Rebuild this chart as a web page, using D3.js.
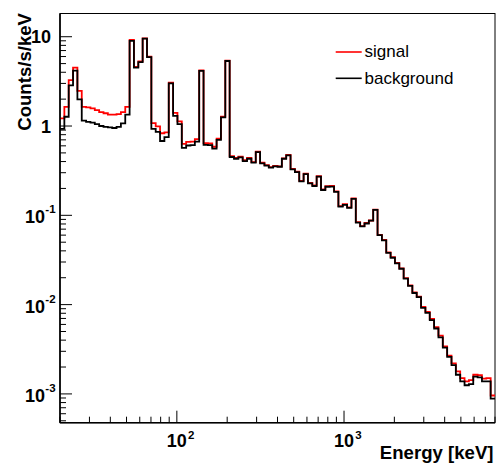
<!DOCTYPE html>
<html>
<head>
<meta charset="utf-8">
<script src="https://cdn.jsdelivr.net/npm/d3@7/dist/d3.min.js"></script>
<style>
  html, body { margin: 0; padding: 0; background: #fff; }
  svg { display: block; font-family: "Liberation Sans", Arial, Helvetica, sans-serif; }
</style>
</head>
<body>
<svg id="chart" width="496" height="464"></svg>
<script>
// ---- data ----
const energyMin = 20;      // keV, lower edge of first bin
const energyMax = 8000;    // keV, upper edge of last bin
const nBins = 100;         // log-spaced bins

const seriesNames = ["signal", "background"];
const seriesColors = ["#ff0000", "#000000"];

const signal = [
  1.22, 1.64, 3.27, 4.5, 2.48, 1.64, 1.62, 1.58, 1.51, 1.43,
  1.39, 1.34, 1.34, 1.36, 1.43, 1.64, 9.2, 4.6, 5.3, 9.6,
  6.0, 1.08, 0.99, 0.83, 0.85, 3.05, 1.40, 1.13, 0.63, 0.665,
  0.67, 0.715, 4.2, 0.645, 0.64, 0.586, 0.72, 1.27, 5.4, 0.46,
  0.44, 0.455, 0.415, 0.44, 0.395, 0.515, 0.388, 0.365, 0.347, 0.358,
  0.353, 0.435, 0.475, 0.33, 0.308, 0.243, 0.293, 0.231, 0.216, 0.274,
  0.195, 0.212, 0.213, 0.185, 0.127, 0.133, 0.123, 0.155, 0.084, 0.0755,
  0.082, 0.0875, 0.116, 0.0605, 0.053, 0.0385, 0.034, 0.0293, 0.0255, 0.0198,
  0.0164, 0.0137, 0.0123, 0.0094, 0.0083, 0.0069, 0.0056, 0.0045, 0.0034, 0.00268,
  0.0022, 0.00179, 0.0015, 0.00138, 0.00143, 0.00164, 0.00162, 0.00148, 0.0015, 0.00096
];

const background = [
  0.93, 1.27, 2.85, 4.17, 1.99, 1.15, 1.11, 1.09, 1.05, 1.0,
  0.98, 0.966, 0.95, 0.98, 1.07, 1.34, 9.0, 4.5, 5.2, 9.5,
  5.9, 0.93, 0.86, 0.68, 0.75, 3.0, 1.30, 1.05, 0.57, 0.605,
  0.61, 0.67, 4.15, 0.615, 0.61, 0.557, 0.70, 1.25, 5.35, 0.45,
  0.43, 0.445, 0.405, 0.43, 0.39, 0.51, 0.382, 0.36, 0.342, 0.354,
  0.35, 0.43, 0.47, 0.327, 0.305, 0.24, 0.29, 0.228, 0.213, 0.271,
  0.192, 0.209, 0.21, 0.183, 0.125, 0.131, 0.121, 0.153, 0.083, 0.075,
  0.081, 0.087, 0.115, 0.06, 0.0525, 0.038, 0.0335, 0.029, 0.0252, 0.0195,
  0.0162, 0.0135, 0.0121, 0.0092, 0.0081, 0.0067, 0.0054, 0.0043, 0.0033, 0.0026,
  0.0021, 0.00164, 0.00138, 0.00125, 0.00129, 0.00156, 0.00153, 0.00138, 0.00138, 0.000885
];

const xMajorTicks = [100, 1000];
const xMajorLabels = [["10", "2"], ["10", "3"]];
const yMajorTicks = [10, 1, 0.1, 0.01, 0.001];
const yMajorLabels = [["10", ""], ["1", ""], ["10", "-1"], ["10", "-2"], ["10", "-3"]];

const xTitle = "Energy [keV]";
const yTitle = "Counts/s/keV";

// ---- layout ----
const frame = { left: 60, right: 495, top: 13.5, bottom: 422.7 };
const yDomain = [4.76e-4, 18.2];

const svg = d3.select("#chart");

const x = d3.scaleLog().domain([energyMin, energyMax]).range([frame.left, frame.right]);
const y = d3.scaleLog().domain(yDomain).range([frame.bottom, frame.top]);

// bin edges
const lmin = Math.log10(energyMin), lmax = Math.log10(energyMax);
const edges = d3.range(nBins + 1).map(i => Math.pow(10, lmin + (lmax - lmin) * i / nBins));

// frame
svg.append("rect")
  .attr("x", frame.left).attr("y", frame.top)
  .attr("width", frame.right - frame.left).attr("height", frame.bottom - frame.top)
  .attr("fill", "none").attr("stroke", "#000").attr("stroke-width", 1);

// histograms
function stepPoints(vals) {
  const pts = [];
  vals.forEach((v, i) => { pts.push([edges[i], v]); pts.push([edges[i + 1], v]); });
  return pts;
}
const line = d3.line().x(d => x(d[0])).y(d => y(d[1]));
const clip = svg.append("clipPath").attr("id", "clip").append("rect")
  .attr("x", frame.left).attr("y", frame.top)
  .attr("width", frame.right - frame.left).attr("height", frame.bottom - frame.top);
const gPlot = svg.append("g").attr("clip-path", "url(#clip)");
[signal, background].forEach((vals, k) => {
  gPlot.append("path")
    .attr("d", line(stepPoints(vals)))
    .attr("fill", "none")
    .attr("stroke", seriesColors[k])
    .attr("stroke-width", 1.8)
    .attr("stroke-linejoin", "miter");
});

// axes lines
svg.append("line").attr("x1", frame.left).attr("x2", frame.right)
  .attr("y1", frame.bottom).attr("y2", frame.bottom)
  .attr("stroke", "#000").attr("stroke-width", 1.6);
svg.append("line").attr("x1", frame.left).attr("x2", frame.left)
  .attr("y1", frame.top).attr("y2", frame.bottom)
  .attr("stroke", "#000").attr("stroke-width", 1.6);

// ticks
function logTicks(lo, hi) {
  const out = [];
  for (let e = Math.floor(Math.log10(lo)) - 1; e <= Math.ceil(Math.log10(hi)); e++) {
    for (let m = 1; m <= 9; m++) {
      const v = m * Math.pow(10, e);
      if (v >= lo * 0.9999 && v <= hi * 1.0001) out.push({ v, major: m === 1 });
    }
  }
  return out;
}
const tickG = svg.append("g").attr("stroke", "#000").attr("stroke-width", 1);
logTicks(energyMin, energyMax).forEach(t => {
  const xx = x(t.v);
  tickG.append("line").attr("x1", xx).attr("x2", xx)
    .attr("y1", frame.bottom).attr("y2", frame.bottom - (t.major ? 12 : 6));
});
logTicks(yDomain[0], yDomain[1]).forEach(t => {
  const yy = y(t.v);
  tickG.append("line").attr("x1", frame.left).attr("x2", frame.left + (t.major ? 12 : 6))
    .attr("y1", yy).attr("y2", yy);
});

// tick labels
const labelSize = 18, supSize = 11.5;
xMajorTicks.forEach((v, i) => {
  const xx = x(v);
  svg.append("text").attr("x", xx).attr("y", 447.3)
    .attr("text-anchor", "middle").attr("font-weight", "bold").attr("font-size", labelSize)
    .text(xMajorLabels[i][0]);
  svg.append("text").attr("x", xx + 11.2).attr("y", 438.8)
    .attr("text-anchor", "start").attr("font-weight", "bold").attr("font-size", supSize)
    .text(xMajorLabels[i][1]);
});
yMajorTicks.forEach((v, i) => {
  const yy = y(v);
  const [base, sup] = yMajorLabels[i];
  if (sup === "") {
    svg.append("text").attr("x", 51).attr("y", yy + 6.5)
      .attr("text-anchor", "end").attr("font-weight", "bold").attr("font-size", labelSize)
      .text(base);
  } else {
    svg.append("text").attr("x", 45).attr("y", yy + 8)
      .attr("text-anchor", "end").attr("font-weight", "bold").attr("font-size", labelSize)
      .text(base);
    svg.append("text").attr("x", 45.3).attr("y", yy - 2)
      .attr("text-anchor", "start").attr("font-weight", "bold").attr("font-size", supSize)
      .text(sup);
  }
});

// axis titles
svg.append("text").attr("x", 493.5).attr("y", 458.5)
  .attr("text-anchor", "end").attr("font-weight", "bold").attr("font-size", 18.6)
  .text(xTitle);
svg.append("text").attr("transform", "translate(30.5,13) rotate(-90)")
  .attr("text-anchor", "end").attr("font-weight", "bold").attr("font-size", 18.6)
  .text(yTitle);

// legend
const legendY = [52, 78.3];
seriesNames.forEach((name, k) => {
  svg.append("line").attr("x1", 335.7).attr("x2", 361.7)
    .attr("y1", legendY[k]).attr("y2", legendY[k])
    .attr("stroke", seriesColors[k]).attr("stroke-width", 1.6);
  svg.append("text").attr("x", 364.5).attr("y", legendY[k] + 5.4)
    .attr("font-size", 17).attr("fill", "#000")
    .text(name);
});
</script>
</body>
</html>
